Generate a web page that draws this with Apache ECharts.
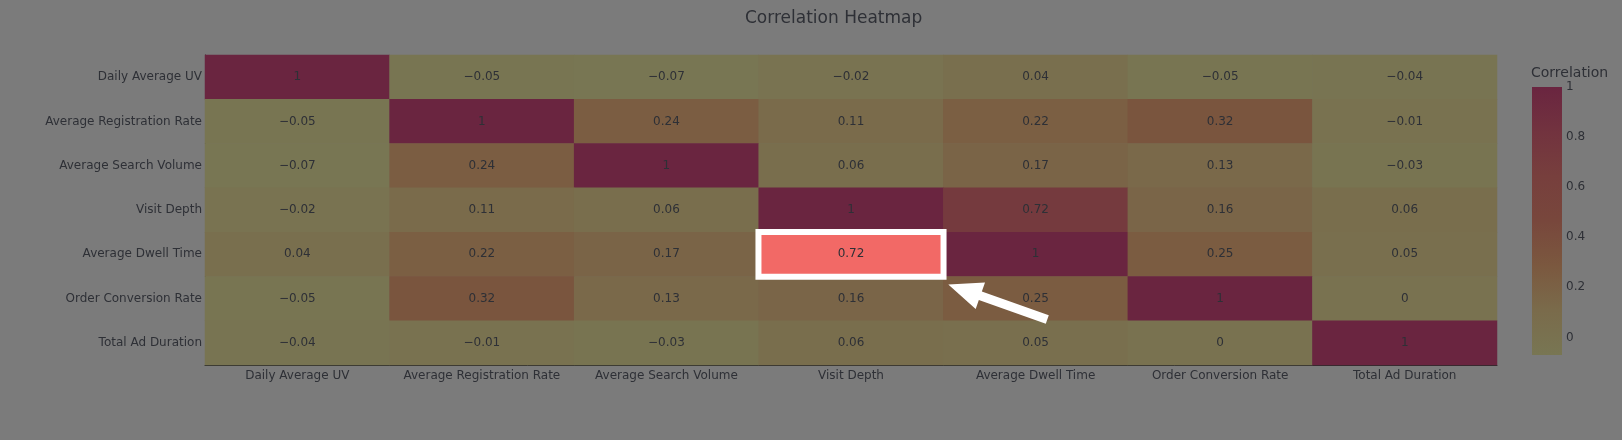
<!DOCTYPE html>
<html>
<head>
<meta charset="utf-8">
<script src="https://cdn.jsdelivr.net/npm/echarts@6/dist/echarts.min.js"></script>
<style>html,body{margin:0;padding:0;background:#7b7b7b;}#c{width:1622px;height:440px;}</style>
</head>
<body>
<div id="c"></div>
<script>
const categories = ['Daily Average UV','Average Registration Rate','Average Search Volume','Visit Depth','Average Dwell Time','Order Conversion Rate','Total Ad Duration'];
const row0 = [1, -0.05, -0.07, -0.02, 0.04, -0.05, -0.04];
const row1 = [-0.05, 1, 0.24, 0.11, 0.22, 0.32, -0.01];
const row2 = [-0.07, 0.24, 1, 0.06, 0.17, 0.13, -0.03];
const row3 = [-0.02, 0.11, 0.06, 1, 0.72, 0.16, 0.06];
const row4 = [0.04, 0.22, 0.17, 0.72, 1, 0.25, 0.05];
const row5 = [-0.05, 0.32, 0.13, 0.16, 0.25, 1, 0];
const row6 = [-0.04, -0.01, -0.03, 0.06, 0.05, 0, 1];
const rows = [row0,row1,row2,row3,row4,row5,row6];
const colorbarTicks = [0, 0.2, 0.4, 0.6, 0.8, 1];
const colorMin = -0.07, colorMax = 1;
const palette = ['#787653','#7a6b4b','#7b583f','#78473c','#773f3d','#72333f','#6a2540'];
const highlight = {x: 'Visit Depth', y: 'Average Dwell Time', value: 0.72};

const data = [];
rows.forEach((r, yi) => r.forEach((v, xi) => data.push([xi, yi, v])));

function fmt(v){ return String(v).replace('-', '\u2212'); }

const FONT = 'DejaVu Sans';
const TXT = '#2e3036';

const chart = echarts.init(document.getElementById('c'));
chart.setOption({
  backgroundColor: '#7b7b7b',
  animation: false,
  textStyle: {fontFamily: FONT},
  title: [
    {text: 'Correlation Heatmap', left: 745, top: 10, padding: 0, textStyle: {fontFamily: FONT, fontSize: 17, fontWeight: 'normal', color: TXT}},
    {text: 'Correlation', left: 1531, top: 66, padding: 0, textStyle: {fontFamily: FONT, fontSize: 14, fontWeight: 'normal', color: TXT}}
  ],
  grid: [
    {left: 205, top: 55, width: 1292, height: 310},
    {left: 1561, top: 87, width: 1, height: 268}
  ],
  xAxis: [
    {type: 'category', data: categories, gridIndex: 0,
     axisLine: {show: true, lineStyle: {color: '#2a2a2a', width: 1}},
     axisTick: {show: false}, splitLine: {show: false},
     axisLabel: {interval: 0, fontSize: 12, color: TXT, margin: 5, fontFamily: FONT}},
    {type: 'value', gridIndex: 1, show: false}
  ],
  yAxis: [
    {type: 'category', data: categories, inverse: true, gridIndex: 0,
     axisLine: {show: true, lineStyle: {color: '#2a2a2a', width: 1}},
     axisTick: {show: false}, splitLine: {show: false},
     axisLabel: {interval: 0, fontSize: 12, color: TXT, margin: 3, fontFamily: FONT}},
    {type: 'value', gridIndex: 1, min: colorMin, max: colorMax, position: 'right',
     axisLine: {show: false}, axisTick: {show: false}, splitLine: {show: false},
     axisLabel: {fontSize: 12, color: TXT, margin: 4, fontFamily: FONT,
       customValues: colorbarTicks, formatter: v => fmt(+(+v).toFixed(2))}}
  ],
  visualMap: {
    type: 'continuous', min: colorMin, max: colorMax, show: false, seriesIndex: 0,
    inRange: {color: palette}
  },
  series: [
    {type: 'heatmap', data: data, xAxisIndex: 0, yAxisIndex: 0,
     label: {show: true, fontSize: 12, color: TXT, fontFamily: FONT, formatter: p => fmt(p.value[2])},
     emphasis: {disabled: true}},
    {type: 'heatmap', xAxisIndex: 0, yAxisIndex: 0, z: 5,
     data: [[highlight.x, highlight.y, highlight.value]],
     itemStyle: {color: '#f26966', borderColor: '#ffffff', borderWidth: 6},
     label: {show: true, fontSize: 12, color: TXT, fontFamily: FONT, formatter: p => fmt(p.value[2])},
     emphasis: {disabled: true}}
  ]
});

// Colour bar drawn from the colour axis scale
const yTop = chart.convertToPixel({yAxisIndex: 1}, colorMax);
const yBot = chart.convertToPixel({yAxisIndex: 1}, colorMin);
const stops = palette.map((col, i) => ({offset: i / (palette.length - 1), color: col}));

// Arrow annotation pointing at the highlighted cell, placed from the chart's own scale
const c = chart.convertToPixel({seriesIndex: 1}, [highlight.x, highlight.y]);
const cw = 1292 / categories.length, ch = 310 / categories.length;
const T = [c[0] + cw / 2 + 5, c[1] + ch / 2 + 8];
let dx = 99, dy = 35; const L = Math.hypot(dx, dy); dx /= L; dy /= L;
const nx = -dy, ny = dx;
const P = (a, b) => [T[0] + dx * a + nx * b, T[1] + dy * a + ny * b];
const pts = [T, P(34, 14), P(34, 4.5), P(105, 4.5), P(105, -4.5), P(34, -4.5), P(34, -14)];
chart.setOption({
  graphic: [
    {type: 'rect', shape: {x: 1532, y: yTop, width: 30, height: yBot - yTop},
     style: {fill: new echarts.graphic.LinearGradient(0, 1, 0, 0, stops)}, z: 1},
    {type: 'polygon', shape: {points: pts}, style: {fill: '#ffffff'}, z: 100}
  ]
});
</script>
</body>
</html>
